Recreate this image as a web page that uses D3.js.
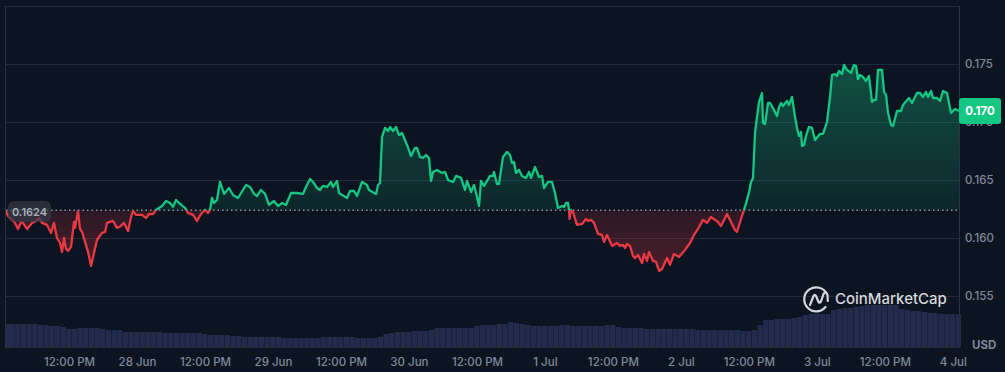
<!DOCTYPE html>
<html lang="en">
<head>
    <meta charset="UTF-8">
    <title>Price chart</title>
    <script src="https://d3js.org/d3.v7.min.js"></script>
    <style>
        body { margin: 0; background: #0d1421; }
        svg { display: block; }
        text { font-family: Inter, "Noto Sans", sans-serif; }
        .tick-label { fill: #7f899c; font-size: 11.5px; font-weight: 500; }
    </style>
</head>
<body>
    <script>
        // hours since 27 Jun 00:00
        const hours = [0.88,1.24,1.94,2.47,3.00,3.53,3.88,4.59,5.47,6.18,6.71,7.24,8.12,8.83,9.35,9.88,10.41,10.77,11.12,11.47,11.83,12.36,12.88,13.06,13.59,13.94,14.30,14.83,15.36,15.89,16.41,16.94,17.83,18.36,18.71,19.77,20.47,21.18,21.71,22.42,22.95,23.30,23.83,24.89,25.59,26.12,26.83,27.36,28.42,29.12,29.83,30.36,30.89,31.59,32.48,33.00,33.89,34.59,35.30,36.01,36.54,36.89,37.24,37.59,38.12,38.65,39.36,40.24,40.95,41.83,43.24,43.95,44.65,45.18,45.89,46.60,47.30,48.18,48.89,49.60,50.30,51.19,52.24,53.30,53.83,54.54,55.07,55.77,56.30,56.83,57.54,58.25,58.60,59.30,59.66,61.07,61.60,62.30,62.83,63.72,64.60,64.95,66.19,66.54,66.89,67.25,67.78,68.31,68.66,69.19,69.72,70.25,70.78,71.66,72.37,73.07,73.42,73.95,74.48,75.01,75.54,75.90,76.25,76.95,77.84,78.37,78.90,79.78,80.31,81.19,81.90,82.25,82.96,83.48,83.84,84.37,84.72,85.25,86.31,86.84,87.01,87.54,87.90,88.60,89.31,89.84,90.19,90.54,90.90,91.43,91.96,92.66,93.19,93.55,94.25,94.96,95.49,95.84,96.55,97.25,97.78,98.31,99.02,99.37,99.72,100.08,100.25,100.34,100.61,100.96,101.66,102.55,103.25,103.61,104.14,104.66,105.37,106.07,106.43,106.96,107.84,108.72,109.25,109.78,110.14,110.49,111.02,111.55,111.90,112.43,113.14,113.49,114.02,114.37,115.08,115.61,116.14,116.67,117.55,118.08,118.78,119.67,120.73,121.61,122.31,123.02,123.90,124.61,125.31,126.02,126.55,127.08,128.14,128.67,129.55,129.90,130.43,130.96,131.14,131.67,132.02,132.38,132.73,133.08,133.43,133.79,134.32,134.49,134.85,135.38,135.73,136.43,136.96,137.32,137.67,138.02,138.73,139.08,139.61,140.14,140.49,140.85,141.20,141.38,141.73,142.08,142.61,143.14,143.67,144.55,145.08,145.79,146.32,146.67,147.20,147.55,147.91,148.44,148.79,149.32,150.03,150.55,150.91,151.26,151.61,152.14,152.67,153.20,153.73,154.08,154.44,154.79,155.50,155.85,156.20,156.56,157.09,157.44,158.14,158.85,159.20,160.26,160.79,161.67,162.20,162.73,163.26,163.62,164.15,164.50,165.20,165.73,166.26,166.97,167.68,168.38,169.09];

        const prices = [.16233,.16190,.16156,.16130,.16078,.16138,.16130,.16078,.16130,.16147,.16173,.16130,.16113,.16044,.16130,.16000,.15957,.15880,.16000,.15906,.15888,.15923,.16138,.16087,.16233,.16078,.16052,.15966,.15880,.15759,.15871,.15983,.16044,.16052,.16130,.16147,.16087,.16104,.16130,.16061,.16181,.16233,.16199,.16199,.16173,.16207,.16207,.16242,.16276,.16319,.16302,.16268,.16328,.16294,.16259,.16216,.16199,.16147,.16207,.16242,.16216,.16242,.16345,.16302,.16328,.16483,.16380,.16431,.16371,.16345,.16457,.16440,.16380,.16362,.16414,.16380,.16285,.16319,.16276,.16302,.16285,.16388,.16388,.16380,.16440,.16509,.16483,.16431,.16414,.16449,.16440,.16483,.16440,.16492,.16388,.16345,.16405,.16405,.16362,.16483,.16457,.16414,.16380,.16457,.16474,.16871,.16949,.16923,.16957,.16923,.16957,.16888,.16905,.16802,.16707,.16776,.16776,.16699,.16690,.16716,.16690,.16492,.16569,.16587,.16561,.16569,.16500,.16483,.16535,.16518,.16414,.16492,.16397,.16457,.16388,.16276,.16492,.16449,.16535,.16535,.16569,.16466,.16466,.16699,.16742,.16716,.16647,.16655,.16561,.16587,.16535,.16518,.16569,.16518,.16612,.16526,.16535,.16431,.16483,.16483,.16388,.16259,.16276,.16268,.16302,.16302,.16242,.16164,.16242,.16224,.16113,.16121,.16164,.16147,.16156,.16130,.16035,.16026,.15966,.16026,.15932,.15957,.15932,.15940,.15914,.15949,.15932,.15845,.15828,.15854,.15785,.15863,.15802,.15880,.15802,.15794,.15716,.15733,.15828,.15768,.15863,.15837,.15897,.15957,.16026,.16078,.16156,.16130,.16181,.16156,.16138,.16104,.16207,.16156,.16069,.16052,.16138,.16216,.16242,.16328,.16397,.16483,.16518,.16905,.17043,.17173,.17250,.16992,.16983,.17164,.17164,.17104,.17052,.17130,.17164,.17138,.17181,.17147,.17216,.17043,.16949,.16880,.16914,.16793,.16802,.16880,.16957,.16949,.16845,.16897,.16897,.17000,.17216,.17405,.17414,.17397,.17440,.17414,.17492,.17449,.17423,.17492,.17483,.17371,.17405,.17388,.17354,.17397,.17173,.17190,.17190,.17449,.17449,.17259,.17233,.17078,.16974,.16966,.17095,.17095,.17147,.17207,.17164,.17250,.17250,.17216,.17259,.17216,.17268,.17207,.17207,.17181,.17268,.17250,.17078,.17112,.17095];

        // hourly volume, relative units, first bar at hour 1
        const volumes = [46,46,46,46,46,46,44,44,42,42,40,36,36,38,38,38,38,36,34,34,34,30,30,30,30,30,30,30,28,28,28,28,28,28,28,26,24,24,24,24,22,22,20,20,20,20,20,20,20,18,18,18,18,18,18,18,20,20,20,20,20,20,18,18,18,18,20,26,28,30,30,30,32,32,32,34,38,38,38,38,38,38,38,42,44,44,44,46,46,50,48,46,44,42,42,42,42,42,44,44,42,42,42,42,42,42,44,44,40,38,38,38,38,36,36,36,36,36,36,36,36,36,34,34,34,34,34,34,34,34,32,32,34,44,54,54,56,56,56,58,60,64,66,66,66,66,74,76,78,78,80,82,84,84,84,84,84,84,76,74,72,72,70,68,68,66,66,66,66];

        const basePrice = 0.1624;
        const lastPriceLabel = "0.170";
        const yTicks = [0.155, 0.16, 0.165, 0.17, 0.175];
        const gridValues = [0.155, 0.16, 0.165, 0.17, 0.175, 0.18];
        const xTickHours = [12, 24, 36, 48, 60, 72, 84, 96, 108, 120, 132, 144, 156, 168];
        const xTickLabels = ["12:00 PM", "28 Jun", "12:00 PM", "29 Jun", "12:00 PM", "30 Jun", "12:00 PM", "1 Jul", "12:00 PM", "2 Jul", "12:00 PM", "3 Jul", "12:00 PM", "4 Jul"];

        const width = 1005, height = 372;
        const left = 6, right = 960, bottom = 347;

        const green = "#16c784", red = "#ea3943";

        const x = d3.scaleLinear().domain([0.88, 169.26]).range([left, right]);
        const y = d3.scaleLinear().domain([0.155, 0.18]).range([296, 6]);
        const yVol = d3.scaleLinear().domain([0, 84]).range([bottom, 305]);

        const svg = d3.select("body").append("svg")
            .attr("width", width)
            .attr("height", height);

        const defs = svg.append("defs");

        // Gradients for the two area fills
        function gradient(id, color, y1, y2, o1, o2) {
            const g = defs.append("linearGradient").attr("id", id)
                .attr("gradientUnits", "userSpaceOnUse")
                .attr("x1", 0).attr("x2", 0).attr("y1", y1).attr("y2", y2);
            g.append("stop").attr("offset", 0).attr("stop-color", color).attr("stop-opacity", o1);
            g.append("stop").attr("offset", 1).attr("stop-color", color).attr("stop-opacity", o2);
        }
        gradient("fillUp", green, y(0.175), y(basePrice), 0.34, 0.1);
        gradient("fillDown", red, y(basePrice), y(0.157), 0.14, 0.28);

        defs.append("clipPath").attr("id", "above").append("rect")
            .attr("x", left).attr("y", 0).attr("width", right - left).attr("height", y(basePrice));
        defs.append("clipPath").attr("id", "below").append("rect")
            .attr("x", left).attr("y", y(basePrice)).attr("width", right - left).attr("height", height - y(basePrice));

        // Grid and frame
        svg.append("g").selectAll("line").data(gridValues).join("line")
            .attr("x1", left).attr("x2", right)
            .attr("y1", d => Math.round(y(d)) + 0.5).attr("y2", d => Math.round(y(d)) + 0.5)
            .attr("stroke", "#222a38");
        svg.append("g").selectAll("line").data([left - 0.5, right - 0.5]).join("line")
            .attr("x1", d => d).attr("x2", d => d)
            .attr("y1", y(0.18)).attr("y2", bottom)
            .attr("stroke", "#2a3240");
        svg.append("line")
            .attr("x1", left - 1).attr("x2", right)
            .attr("y1", bottom + 0.5).attr("y2", bottom + 0.5)
            .attr("stroke", "#222a38");

        // Volume bars
        const barStep = x(2) - x(1);
        svg.append("g").selectAll("rect").data(volumes).join("rect")
            .attr("x", (d, i) => Math.max(left, x(i + 1) - barStep / 2))
            .attr("y", d => yVol(d))
            .attr("width", barStep - 0.35)
            .attr("height", d => bottom - yVol(d))
            .attr("fill", "#222b4b");

        // Price area and line, split at the opening price
        const points = hours.map((h, i) => [h, prices[i]]);
        const area = d3.area().x(d => x(d[0])).y0(y(basePrice)).y1(d => y(d[1]));
        const line = d3.line().x(d => x(d[0])).y(d => y(d[1]));

        svg.append("path").attr("d", area(points)).attr("fill", "url(#fillUp)").attr("clip-path", "url(#above)");
        svg.append("path").attr("d", area(points)).attr("fill", "url(#fillDown)").attr("clip-path", "url(#below)");

        svg.append("line")
            .attr("x1", left).attr("x2", right)
            .attr("y1", y(basePrice)).attr("y2", y(basePrice))
            .attr("stroke", "#c9ced6").attr("stroke-width", 1).attr("stroke-dasharray", "1.5 3");

        svg.append("path").attr("d", line(points)).attr("fill", "none").attr("stroke", green)
            .attr("stroke-width", 2.3).attr("stroke-linejoin", "round").attr("clip-path", "url(#above)");
        svg.append("path").attr("d", line(points)).attr("fill", "none").attr("stroke", red)
            .attr("stroke-width", 2.3).attr("stroke-linejoin", "round").attr("clip-path", "url(#below)");

        // Y axis
        const yAxis = svg.append("g")
            .attr("transform", `translate(${right},0)`)
            .call(d3.axisRight(y).tickValues(yTicks).tickSize(0).tickPadding(5).tickFormat(d3.format(".3f")));
        yAxis.select(".domain").remove();
        yAxis.selectAll("text").attr("class", "tick-label");

        // X axis
        const xAxis = svg.append("g")
            .attr("transform", `translate(0,${bottom})`)
            .call(d3.axisBottom(x).tickValues(xTickHours).tickSize(0).tickPadding(11)
                .tickFormat((d, i) => xTickLabels[i]));
        xAxis.select(".domain").remove();
        xAxis.selectAll("text").attr("class", "tick-label");

        svg.append("text").attr("x", 972).attr("y", 349)
            .attr("fill", "#7f899c").attr("font-size", 11.5).attr("font-weight", 700).text("USD");

        // Last price tag
        svg.append("rect").attr("x", 959).attr("y", 98).attr("width", 42).attr("height", 26)
            .attr("rx", 3).attr("fill", green);
        svg.append("text").attr("x", 980).attr("y", 111).attr("dy", "0.35em").attr("text-anchor", "middle")
            .attr("fill", "#fff").attr("font-size", 11.5).attr("font-weight", 700).text(lastPriceLabel);

        // Opening price pill
        svg.append("rect").attr("x", 8).attr("y", 201).attr("width", 43).attr("height", 21)
            .attr("rx", 6).attr("fill", "#343a47").attr("fill-opacity", 0.7);
        svg.append("text").attr("x", 29.5).attr("y", 212).attr("dy", "0.35em").attr("text-anchor", "middle")
            .attr("fill", "#aab0bb").attr("font-size", 11).attr("font-weight", 600).text(d3.format(".4f")(basePrice));

        // CoinMarketCap mark
        const logo = svg.append("g").attr("transform", "translate(816,299)")
            .attr("fill", "none").attr("stroke", "#d5d7dc").attr("stroke-width", 2.2)
            .attr("stroke-linecap", "round").attr("stroke-linejoin", "round");
        logo.append("path").attr("d", "M 11 -5 A 12 12 0 1 0 9.5 8");
        logo.append("path").attr("d", "M -6 6 L -2.5 -3 Q -1 -5.5 0.5 -2 L 2.5 3 Q 4 5 5.5 1 L 7.5 -5 Q 10 -8.5 11.5 -4 L 11.8 2");
        svg.append("text").attr("x", 835).attr("y", 304)
            .attr("fill", "#d5d7dc").attr("font-size", 15).attr("font-weight", 500).text("CoinMarketCap");
    </script>
</body>
</html>
